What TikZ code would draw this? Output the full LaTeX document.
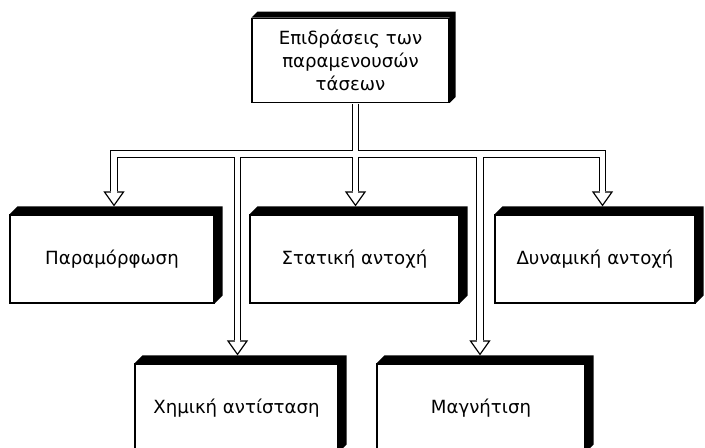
\documentclass[tikz,border=0pt]{standalone}
\usepackage{fontspec}
\setmainfont{DejaVu Sans}
\usepackage{tikz}
\usetikzlibrary{arrows.meta}

% raised black edge on top and right of a box
\newcommand{\boxshade}[2][0.24]{%
  \fill (#2.north west) -- ++(#1,#1) -- ([shift={(#1,#1)}]#2.north east)
        -- ([shift={(#1,#1)}]#2.south east) -- (#2.south east)
        -- (#2.north east) -- cycle;}

% the pipe network, drawn twice (outer black, inner white)
\newcommand{\pipenet}[1]{%
  \draw[shorten >=#1] ([yshift=-0.5pt]eff.south -| js) -- (ts);
  \draw[shorten <=#1, shorten >=#1] (tp) -- (jp) -- (jd) -- (td);
  \draw[shorten >=#1] (jc) -- (tc);
  \draw[shorten >=#1] (jm) -- (tm);}

\begin{document}
\begin{tikzpicture}[
            bx/.style={rectangle, draw, line width=1pt, fill=white,
                       minimum height=2.64cm, align=center, inner sep=2pt,
                       font=\fontsize{15.5}{19.5}\selectfont},
            tip/.style={line width=1pt,
                        -{Triangle[length=0.45cm, width=0.63cm, fill=white]}}
          ]
          \useasboundingbox (0,0) rectangle (21.15,13.41);

          % boxes
          \node[bx, minimum width=5.91cm, minimum height=2.52cm]
                (eff) at (10.515, 11.6) {Επιδράσεις των\\παραμενουσών\\τάσεων};
          \node[bx, minimum width=6.12cm] (defm) at (3.36, 5.64)   {Παραμόρφωση};
          \node[bx, minimum width=6.27cm] (stat) at (10.635, 5.64) {Στατική αντοχή};
          \node[bx, minimum width=6.0cm]  (dyn)  at (17.85, 5.64)  {Δυναμική αντοχή};
          \node[bx, minimum width=6.09cm] (chem) at (7.095, 1.17)  {Χημική αντίσταση};
          \node[bx, minimum width=6.24cm] (magn) at (14.43, 1.17)  {Μαγνήτιση};
          \boxshade[0.18]{eff}
          \boxshade{defm} \boxshade{stat} \boxshade{dyn}
          \boxshade{chem} \boxshade{magn}

          % junctions on the bus and arrow ends
          \coordinate (jp) at (3.42, 8.79);
          \coordinate (jc) at (7.125, 8.79);
          \coordinate (js) at (10.665, 8.79);
          \coordinate (jm) at (14.4, 8.79);
          \coordinate (jd) at (18.075, 8.79);
          \coordinate (tp) at ([yshift=0.24cm]jp |- defm.north);
          \coordinate (tc) at ([yshift=0.24cm]jc |- chem.north);
          \coordinate (ts) at ([yshift=0.24cm]js |- stat.north);
          \coordinate (tm) at ([yshift=0.24cm]jm |- magn.north);
          \coordinate (td) at ([yshift=0.24cm]jd |- dyn.north);

          % pipes
          \begin{scope}[line width=6.6pt]
            \pipenet{0.45cm}
          \end{scope}
          \foreach \t in {tp,tc,ts,tm,td}
            \draw[tip] ([yshift=0.5cm]\t) -- (\t);
          \begin{scope}[line width=4.4pt, draw=white]
            \pipenet{0.38cm}
          \end{scope}
        \end{tikzpicture}
\end{document}
